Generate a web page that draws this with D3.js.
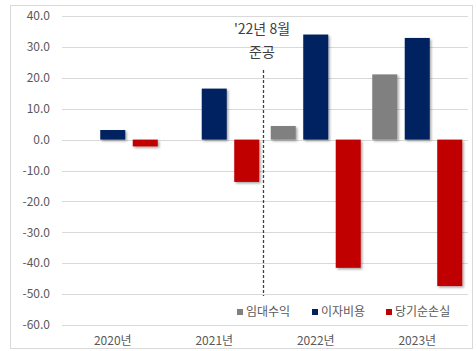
<!DOCTYPE html>
<html><head><meta charset="utf-8">
<script src="https://cdn.jsdelivr.net/npm/d3@7"></script>
<style>body{margin:0;background:#fff;} text{font-family:"Noto Sans CJK KR","Noto Sans",sans-serif;}</style>
</head><body><svg id="c" width="476" height="351"></svg>
<script>
const categories = ["2020년","2021년","2022년","2023년"];
const seriesNames = ["임대수익","이자비용","당기순손실"];
const seriesColors = ["#808080","#002060","#c00000"];
const rentIncome = [0, 0, 4.4, 21.1];
const interestCost = [3.1, 16.5, 34.0, 32.9];
const netLoss = [-2.2, -13.7, -41.5, -47.4];
const yTicks = [40,30,20,10,0,-10,-20,-30,-40,-50,-60];
const annotation = ["'22년 8월","준공"];

const svg = d3.select("#c");
svg.append("rect").attr("x",10.5).attr("y",5.5).attr("width",462).attr("height",343)
  .attr("fill","#fff").attr("stroke","#d9d9d9");

const defs = svg.append("defs");
const f = defs.append("filter").attr("id","sh").attr("x","-20%").attr("y","-20%").attr("width","150%").attr("height","150%");
f.append("feDropShadow").attr("dx",1.5).attr("dy",1.5).attr("stdDeviation",1).attr("flood-color","#000").attr("flood-opacity",0.35);

const y = d3.scaleLinear().domain([-60,40]).range([325,16]);
const x = d3.scaleBand().domain(categories).range([62,468]).padding(0);
const xs = d3.scaleBand().domain(d3.range(3)).range([0,x.bandwidth()]).paddingInner(0.23).paddingOuter(0.177);

svg.append("g").selectAll("line").data(yTicks).join("line")
  .attr("x1",62).attr("x2",468).attr("y1",d=>Math.round(y(d))+0.5).attr("y2",d=>Math.round(y(d))+0.5)
  .attr("stroke","#d9d9d9").attr("stroke-width",1);
svg.append("g").selectAll("text").data(yTicks).join("text")
  .attr("x",50).attr("y",d=>y(d)).attr("dy","0.35em").attr("text-anchor","end")
  .attr("font-size",12).attr("fill","#595959").text(d=>d.toFixed(1));

svg.append("g").selectAll("text").data(categories).join("text")
  .attr("x",d=>x(d)+x.bandwidth()/2).attr("y",341).attr("dy","0.35em").attr("text-anchor","middle")
  .attr("font-size",12).attr("fill","#595959").text(d=>d);

const series=[rentIncome,interestCost,netLoss];
const data=[];
categories.forEach((c,i)=>series.forEach((s,j)=>data.push({c,j,v:s[i]})));
svg.append("g").attr("filter","url(#sh)").selectAll("rect").data(data.filter(d=>d.v!==0)).join("rect")
  .attr("x",d=>x(d.c)+xs(d.j)).attr("width",xs.bandwidth())
  .attr("y",d=>y(Math.max(0,d.v))).attr("height",d=>Math.abs(y(d.v)-y(0)))
  .attr("fill",d=>seriesColors[d.j]);

const dx = 263.5;
svg.append("line").attr("x1",dx).attr("x2",dx).attr("y1",70).attr("y2",296)
  .attr("stroke","#404040").attr("stroke-width",1.3).attr("stroke-dasharray","3,2");
svg.append("g").selectAll("text").data(annotation).join("text")
  .attr("x",262).attr("y",(d,i)=>29+i*23.5).attr("dy","0.35em").attr("text-anchor","middle")
  .attr("font-size",14).attr("fill","#404040").text(d=>d);

const legX=[237,312,386];
const lg=svg.append("g").selectAll("g").data(seriesNames).join("g")
  .attr("transform",(d,i)=>`translate(${legX[i]},312)`);
lg.append("rect").attr("x",0).attr("y",-3).attr("width",6).attr("height",6).attr("fill",(d,i)=>seriesColors[i]);
lg.append("text").attr("x",9).attr("y",0).attr("dy","0.35em").attr("font-size",12).attr("fill","#595959").text(d=>d);
</script></body></html>
